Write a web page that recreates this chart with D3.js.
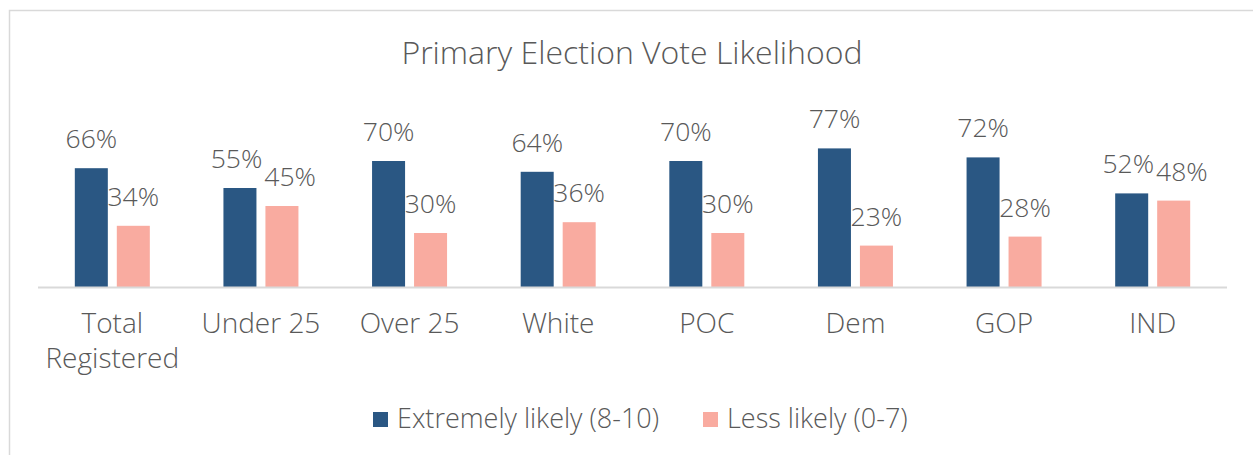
<!DOCTYPE html>
<html>
<head>
<meta charset="utf-8">
<script src="https://cdn.jsdelivr.net/npm/d3@7"></script>
<style>
  html, body { margin: 0; padding: 0; background: #fff; overflow: hidden; }
  text { font-family: "Open Sans", "Noto Sans", sans-serif; fill: #595959; font-weight: 300; }
</style>
</head>
<body>
<svg id="chart" width="1253" height="455"></svg>
<script>
var categories = ["Total|Registered", "Under 25", "Over 25", "White", "POC", "Dem", "GOP", "IND"];
var extremelyLikely = [66, 55, 70, 64, 70, 77, 72, 52];
var lessLikely = [34, 45, 30, 36, 30, 23, 28, 48];
var seriesNames = ["Extremely likely (8-10)", "Less likely (0-7)"];
var seriesColors = ["#2A5783", "#F9ABA0"];

var svg = d3.select("#chart");

// outer chart frame
svg.append("rect")
    .attr("x", 9.5).attr("y", 10.5)
    .attr("width", 1270).attr("height", 470)
    .attr("fill", "none")
    .attr("stroke", "#d9d9d9")
    .attr("stroke-width", 1.5);

svg.append("text")
    .attr("x", 632).attr("y", 64)
    .attr("text-anchor", "middle")
    .style("font-size", "32px")
    .text("Primary Election Vote Likelihood");

var x0 = d3.scaleBand().domain(categories).range([38, 1227]);
var x1 = d3.scaleBand().domain([0, 1]).range([0, 75]).paddingInner(0.214);
var y = d3.scaleLinear().domain([0, 100]).range([287, 107]);

var rows = categories.map(function(c, i) {
    return { cat: c, vals: [extremelyLikely[i], lessLikely[i]] };
});

var groups = svg.selectAll("g.grp")
    .data(rows)
    .enter().append("g")
    .attr("class", "grp")
    .attr("transform", function(d) {
        return "translate(" + (x0(d.cat) + x0.bandwidth() / 2 - 37.5) + ",0)";
    });

groups.selectAll("rect")
    .data(function(d) { return d.vals; })
    .enter().append("rect")
    .attr("x", function(d, i) { return x1(i); })
    .attr("width", x1.bandwidth())
    .attr("y", function(d) { return y(d); })
    .attr("height", function(d) { return y(0) - y(d); })
    .attr("fill", function(d, i) { return seriesColors[i]; });

groups.each(function(d) {
    var g = d3.select(this);
    var labels = d.vals.map(function(v, i) {
        return g.append("text")
            .attr("class", "val")
            .attr("x", x1(i) + x1.bandwidth() / 2)
            .attr("y", y(v) - 20)
            .attr("text-anchor", "middle")
            .style("font-size", "26.5px")
            .text(v + "%");
    });
    // nudge the pair apart when the labels sit at nearly the same height
    if (Math.abs(y(d.vals[0]) - y(d.vals[1])) < 20) {
        var w0 = labels[0].node().getComputedTextLength();
        var w1 = labels[1].node().getComputedTextLength();
        var c0 = x1(0) + x1.bandwidth() / 2, c1 = x1(1) + x1.bandwidth() / 2;
        var need = (w0 + w1) / 2 + 2 - (c1 - c0);
        if (need > 0) {
            labels[0].attr("x", c0 - need * 0.3);
            labels[1].attr("x", c1 + need * 0.7);
        }
    }
});

// baseline
svg.append("line")
    .attr("x1", 38).attr("x2", 1227)
    .attr("y1", y(0) + 0.5).attr("y2", y(0) + 0.5)
    .attr("stroke", "#d9d9d9")
    .attr("stroke-width", 2);

// category labels
var catLabels = svg.selectAll("text.cat")
    .data(categories)
    .enter().append("text")
    .attr("class", "cat")
    .attr("text-anchor", "middle")
    .attr("y", 333)
    .style("font-size", "28px");
catLabels.each(function(d) {
    var t = d3.select(this);
    var cx = x0(d) + x0.bandwidth() / 2;
    d.split("|").forEach(function(line, k) {
        t.append("tspan")
            .attr("x", cx)
            .attr("dy", k === 0 ? 0 : 35)
            .text(line);
    });
});

// legend
var legend = svg.append("g");
var legendX = [373, 703];
seriesNames.forEach(function(name, i) {
    legend.append("rect")
        .attr("x", legendX[i]).attr("y", 412)
        .attr("width", 15).attr("height", 15)
        .attr("fill", seriesColors[i]);
    legend.append("text")
        .attr("x", legendX[i] + 24).attr("y", 428)
        .style("font-size", "27px")
        .text(name);
});
</script>
</body>
</html>
